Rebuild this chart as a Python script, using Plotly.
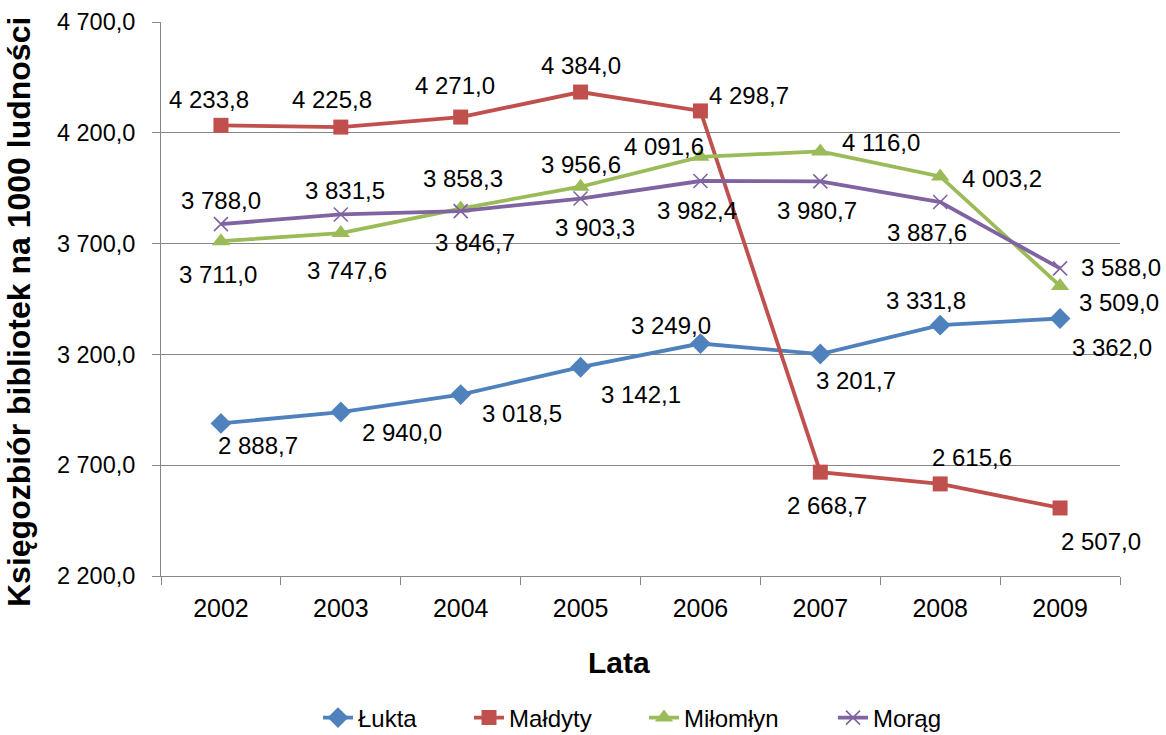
import plotly.graph_objects as go

years = ["2002", "2003", "2004", "2005", "2006", "2007", "2008", "2009"]

lukta = [2888.7, 2940.0, 3018.5, 3142.1, 3249.0, 3201.7, 3331.8, 3362.0]
maldyty = [4233.8, 4225.8, 4271.0, 4384.0, 4298.7, 2668.7, 2615.6, 2507.0]
milomlyn = [3711.0, 3747.6, 3858.3, 3956.6, 4091.6, 4116.0, 4003.2, 3509.0]
morag = [3788.0, 3831.5, 3846.7, 3903.3, 3982.4, 3980.7, 3887.6, 3588.0]

y_ticks = [2200, 2700, 3200, 3700, 4200, 4700]

FONT = "Liberation Sans, Arial, sans-serif"
W, H = 1166, 735

# label offsets (px) from each point: (dx, dy) with dy positive = down
label_off = {
    "Łukta": [(37, 22), (61, 20), (61, 19), (60, 27), (-29, -18), (36, 26), (-14, -25), (52, 29)],
    "Małdyty": [(-12, -26), (-9, -28), (-6, -32), (0, -27), (49, -15), (7, 33), (32, -26), (41, 34)],
    "Miłomłyn": [(-3, 33), (6, 37), (2, -30), (0, -22), (-36, -10), (61, -9), (62, 2), (59, 17)],
    "Morąg": [(0, -24), (4, -24), (14, 31), (14, 29), (-3, 29), (-3, 29), (-13, 30), (61, -1)],
}

# name, values, colour, marker, marker size, legend slot, legend left (px)
series = [
    ("Łukta", lukta, "#4F81BD", "diamond", 16, "legend", 318),
    ("Małdyty", maldyty, "#C0504D", "square", 15, "legend2", 469),
    ("Miłomłyn", milomlyn, "#9BBB59", "triangle-up", 16, "legend3", 644),
    ("Morąg", morag, "#8064A2", "x-thin", 14, "legend4", 833),
]


def fmt(v):
    s = f"{v:,.1f}"
    return s.replace(",", " ").replace(".", ",")


fig = go.Figure()
annotations = []
legends = {}

for name, vals, color, symbol, msize, leg, leg_x in series:
    marker = dict(symbol=symbol, size=msize, color=color)
    if symbol == "x-thin":
        marker["line"] = dict(color=color, width=1.6)
    fig.add_trace(go.Scatter(
        x=years, y=vals, name=name, legend=leg,
        mode="lines+markers",
        line=dict(color=color, width=3.8),
        marker=marker,
    ))
    legends[leg] = dict(
        orientation="h", xref="container", yref="container",
        x=leg_x / W, xanchor="left", y=17 / H, yanchor="middle",
        font=dict(family=FONT, size=24, color="black"),
        bgcolor="rgba(0,0,0,0)",
    )
    # category axis: numeric-looking strings would be read as indices, so use the index
    for i, (v, (dx, dy)) in enumerate(zip(vals, label_off[name])):
        annotations.append(dict(
            x=i, y=v, text=fmt(v), showarrow=False,
            xshift=dx, yshift=-dy,
            font=dict(family=FONT, size=24, color="black"),
        ))

# axis titles
annotations.append(dict(
    xref="paper", yref="paper", x=0, y=0.5, xshift=-142, yshift=-13,
    xanchor="center", yanchor="middle",
    text="<b>Księgozbiór bibliotek na 1000 ludności</b>", textangle=-90,
    showarrow=False, font=dict(family=FONT, size=32, color="black"),
))
annotations.append(dict(
    xref="paper", yref="paper", x=0.5, y=0, xshift=-22, yshift=-86,
    xanchor="center", yanchor="middle",
    text="<b>Lata</b>", showarrow=False,
    font=dict(family=FONT, size=30, color="black"),
))

fig.update_layout(
    width=W, height=H,
    margin=dict(l=161, r=46, t=22, b=159),
    paper_bgcolor="white", plot_bgcolor="white",
    separators=", ",
    font=dict(family=FONT, size=23, color="black"),
    showlegend=True,
    annotations=annotations,
    xaxis=dict(
        type="category", range=[-0.5, len(years) - 0.5], autorange=False,
        tickson="boundaries", ticks="outside", ticklen=8,
        tickcolor="#868686", showline=True, linecolor="#868686", linewidth=1,
        showgrid=False, tickfont=dict(size=25), ticklabelstandoff=10,
        tickangle=0, automargin=False,
    ),
    yaxis=dict(
        range=[2200, 4700], autorange=False, tickvals=y_ticks, tickformat=",.1f",
        ticks="outside", ticklen=8, tickcolor="#868686",
        showline=True, linecolor="#868686", linewidth=1,
        showgrid=True, gridcolor="#868686", gridwidth=1,
        zeroline=False, tickfont=dict(size=23.5), ticklabelstandoff=12,
        automargin=False,
    ),
    **legends,
)

# drop the browser's default body margin so the figure sits at the page corner
fig.write_html(
    "out.html",
    config={"displayModeBar": False},
    post_script="document.body.style.margin='0';document.body.style.overflow='hidden';",
)
